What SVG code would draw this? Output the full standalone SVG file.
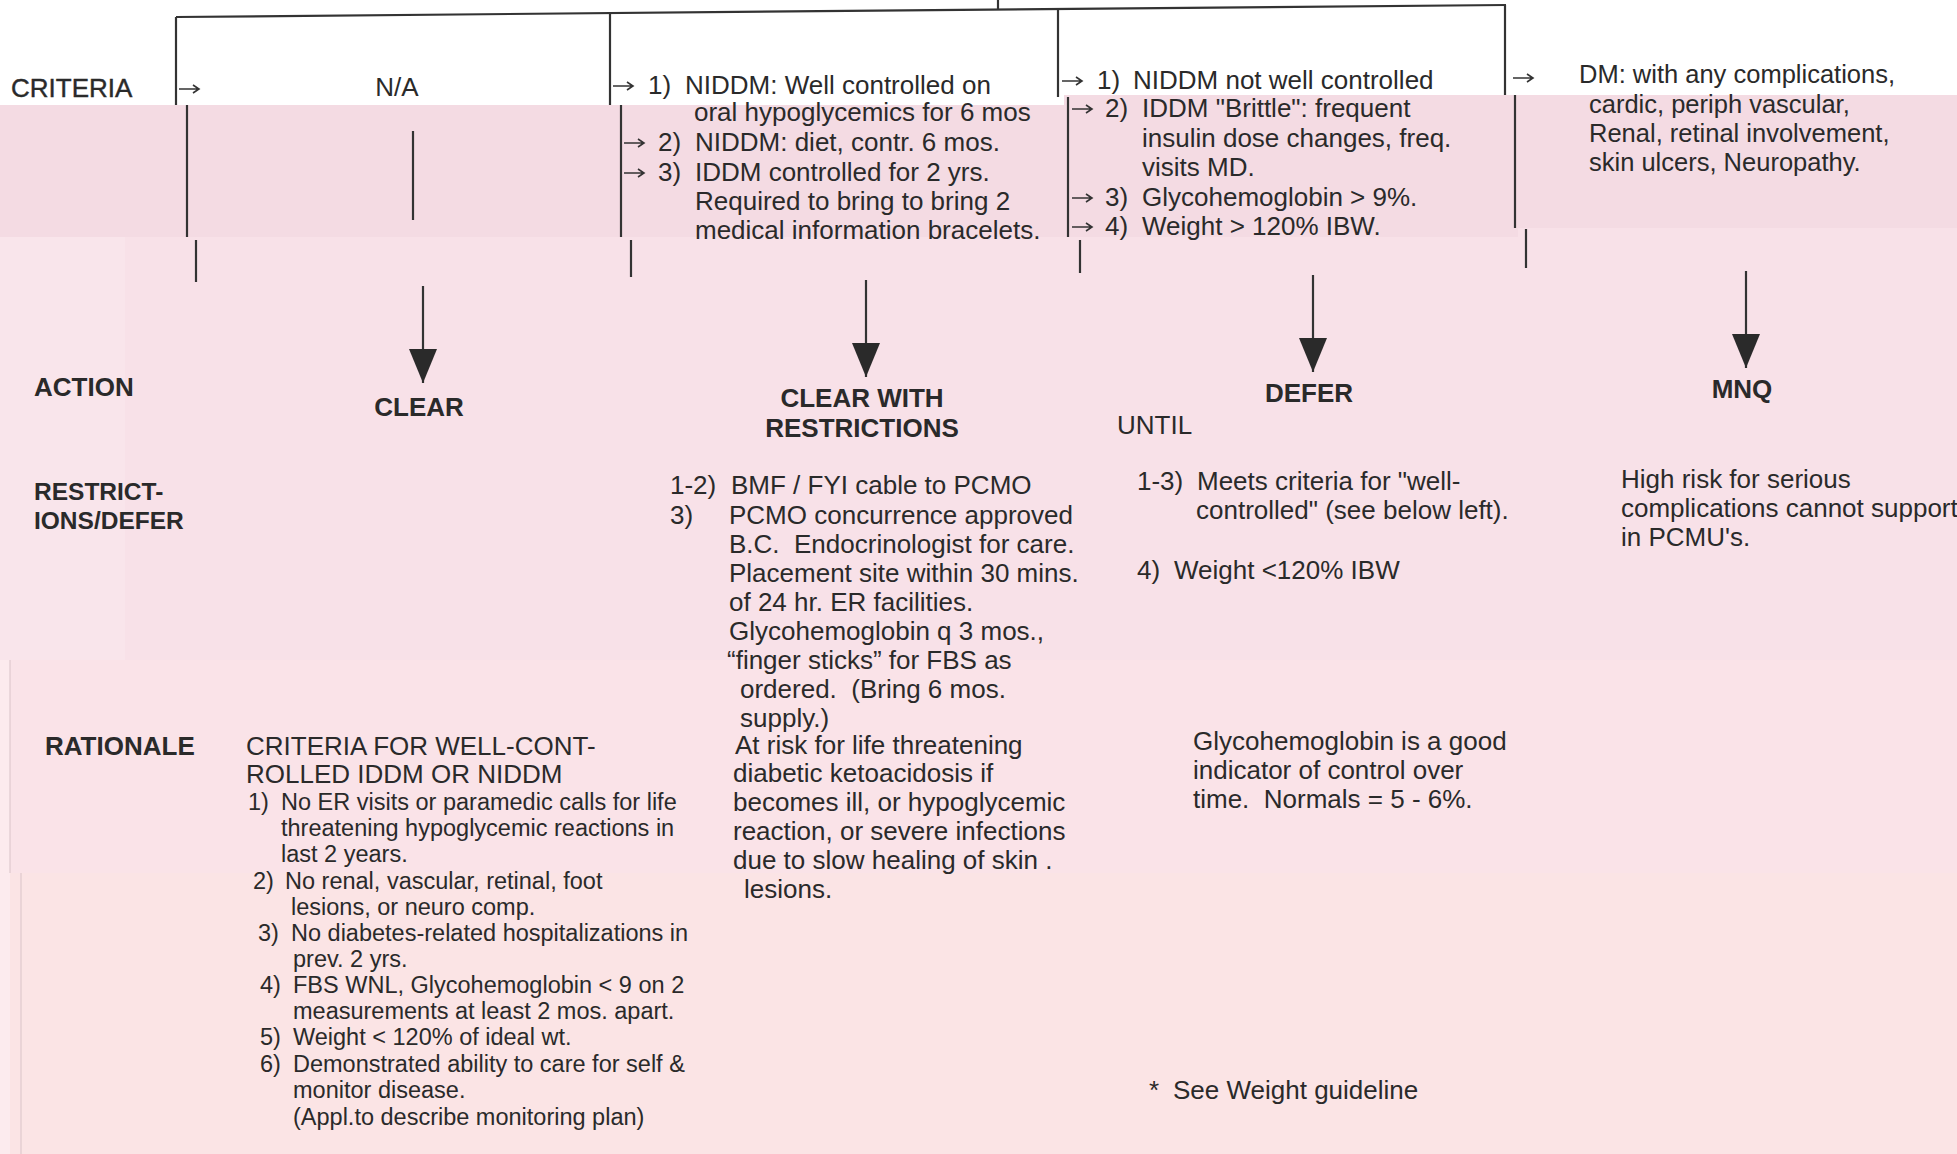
<svg xmlns="http://www.w3.org/2000/svg" width="1957" height="1154" viewBox="0 0 1957 1154">
<style>
text{font-family:"Liberation Sans",Arial,sans-serif;font-size:26px;fill:#2a2a2a;white-space:pre}
.b{font-weight:bold}
.m{text-anchor:middle}
.s{font-size:23.5px}
.d{font-size:25.5px}
.r{font-size:24.5px}
.ln{stroke:#333;stroke-width:2.2;fill:none}
.ra{stroke:#333;stroke-width:1.6;fill:none}
</style>
<defs>
<marker id="ah" markerUnits="userSpaceOnUse" markerWidth="34" markerHeight="28" viewBox="0 -14 34 28" refX="34" refY="0" orient="auto">
<path d="M0,-14 L34,0 L0,14 Z" fill="#2a2a2a"/>
</marker>
<path id="rarr" class="ra" d="M0,0 H20 M14,-4 L20,0 L14,4"/>
</defs>
<g id="background">
<rect x="0" y="0" width="1957" height="1154" fill="#fbe4e5"/>
<rect x="0" y="0" width="1957" height="105" fill="#ffffff"/>
<rect x="1064" y="95" width="893" height="10" fill="#f4dbe3"/>
<rect x="0" y="105" width="1518" height="132" fill="#f4dbe3"/>
<rect x="1518" y="95" width="439" height="133" fill="#f4dbe3"/>
<rect x="0" y="237" width="1957" height="423" fill="#f8e1e8"/>
<rect x="1518" y="228" width="439" height="9" fill="#f8e1e8"/>
<rect x="0" y="237" width="125" height="423" fill="#f9e5eb"/>
<rect x="0" y="660" width="1957" height="213" fill="#fae3e8"/>
<rect x="0" y="660" width="10" height="494" fill="#fcebee"/>
<line x1="10" y1="660" x2="10" y2="873" stroke="#d9c3c8" stroke-width="1"/>
<line x1="21" y1="873" x2="21" y2="1154" stroke="#d9c3c8" stroke-width="1"/>
</g>
<g id="connectors">
<line class="ln" x1="176" y1="17" x2="1506" y2="5"/>
<line class="ln" x1="998" y1="0" x2="998" y2="9"/>
<line class="ln" x1="176" y1="17" x2="176" y2="105"/>
<line class="ln" x1="610" y1="13" x2="610" y2="105"/>
<line class="ln" x1="1058" y1="9" x2="1058" y2="97"/>
<line class="ln" x1="1505" y1="5" x2="1505" y2="95"/>
<line class="ln" x1="187" y1="105" x2="187" y2="237"/>
<line class="ln" x1="621" y1="105" x2="621" y2="237"/>
<line class="ln" x1="1068" y1="97" x2="1068" y2="237"/>
<line class="ln" x1="1515" y1="95" x2="1515" y2="228"/>
<line class="ln" x1="196" y1="240" x2="196" y2="282"/>
<line class="ln" x1="631" y1="240" x2="631" y2="277"/>
<line class="ln" x1="1080" y1="240" x2="1080" y2="273"/>
<line class="ln" x1="1526" y1="229" x2="1526" y2="268"/>
<line class="ln" x1="413" y1="131" x2="413" y2="220"/>
<line class="ln" x1="423" y1="286" x2="423" y2="383" marker-end="url(#ah)"/>
<line class="ln" x1="866" y1="280" x2="866" y2="377" marker-end="url(#ah)"/>
<line class="ln" x1="1313" y1="275" x2="1313" y2="372" marker-end="url(#ah)"/>
<line class="ln" x1="1746" y1="271" x2="1746" y2="368" marker-end="url(#ah)"/>
<use href="#rarr" x="179" y="89"/>
<use href="#rarr" x="613" y="86"/>
<use href="#rarr" x="624" y="143"/>
<use href="#rarr" x="624" y="173"/>
<use href="#rarr" x="1062" y="81"/>
<use href="#rarr" x="1072" y="109"/>
<use href="#rarr" x="1072" y="198"/>
<use href="#rarr" x="1072" y="227"/>
<use href="#rarr" x="1513" y="78"/>
</g>
<g id="row-labels">
<text x="11" y="97" style="stroke:#2a2a2a;stroke-width:0.4">CRITERIA</text>
<text class="b" x="34" y="396">ACTION</text>
<text class="b r" x="34" y="500">RESTRICT-</text>
<text class="b r" x="34" y="529">IONS/DEFER</text>
<text class="b" x="45" y="755">RATIONALE</text>
</g>
<g id="criteria-na">
<text class="m" x="397" y="96">N/A</text>
</g>
<g id="criteria-clear-with-restrictions">
<text y="94"><tspan x="648">1)</tspan><tspan x="685">NIDDM: Well controlled on</tspan></text>
<text x="694" y="121">oral hypoglycemics for 6 mos</text>
<text y="151"><tspan x="658">2)</tspan><tspan x="695">NIDDM: diet, contr. 6 mos.</tspan></text>
<text y="181"><tspan x="658">3)</tspan><tspan x="695">IDDM controlled for 2 yrs.</tspan></text>
<text x="695" y="210">Required to bring to bring 2</text>
<text x="695" y="239">medical information bracelets.</text>
</g>
<g id="criteria-defer">
<text y="89"><tspan x="1097">1)</tspan><tspan x="1133">NIDDM not well controlled</tspan></text>
<text y="117"><tspan x="1105">2)</tspan><tspan x="1142">IDDM "Brittle": frequent</tspan></text>
<text x="1142" y="147">insulin dose changes, freq.</text>
<text x="1142" y="176">visits MD.</text>
<text y="206"><tspan x="1105">3)</tspan><tspan x="1142">Glycohemoglobin &gt; 9%.</tspan></text>
<text y="235"><tspan x="1105">4)</tspan><tspan x="1142">Weight &gt; 120% IBW.</tspan></text>
</g>
<g id="criteria-mnq">
<text class="d" x="1579" y="83">DM: with any complications,</text>
<text class="d" x="1589" y="113">cardic, periph vascular,</text>
<text class="d" x="1589" y="142">Renal, retinal involvement,</text>
<text class="d" x="1589" y="171">skin ulcers, Neuropathy.</text>
</g>
<g id="action-clear">
<text class="b m" x="419" y="416">CLEAR</text>
</g>
<g id="action-clear-with-restrictions">
<text class="b m" x="862" y="407">CLEAR WITH</text>
<text class="b m" x="862" y="437">RESTRICTIONS</text>
</g>
<g id="action-defer">
<text class="b m" x="1309" y="402">DEFER</text>
<text x="1117" y="434">UNTIL</text>
</g>
<g id="action-mnq">
<text class="b m" x="1742" y="398">MNQ</text>
</g>
<g id="restrictions-clear-with-restrictions">
<text y="494"><tspan x="670">1-2)</tspan><tspan x="731">BMF / FYI cable to PCMO</tspan></text>
<text y="524"><tspan x="670">3)</tspan><tspan x="729">PCMO concurrence approved</tspan></text>
<text x="729" y="553">B.C.  Endocrinologist for care.</text>
<text x="729" y="582">Placement site within 30 mins.</text>
<text x="729" y="611">of 24 hr. ER facilities.</text>
<text x="729" y="640">Glycohemoglobin q 3 mos.,</text>
<text x="727" y="669">“finger sticks” for FBS as</text>
<text x="740" y="698">ordered.  (Bring 6 mos.</text>
<text x="740" y="727">supply.)</text>
</g>
<g id="restrictions-defer">
<text y="490"><tspan x="1137">1-3)</tspan><tspan x="1197">Meets criteria for "well-</tspan></text>
<text x="1196" y="519">controlled" (see below left).</text>
<text y="579"><tspan x="1137">4)</tspan><tspan x="1174">Weight &lt;120% IBW</tspan></text>
</g>
<g id="restrictions-mnq">
<text x="1621" y="488">High risk for serious</text>
<text x="1621" y="517">complications cannot support</text>
<text x="1621" y="546">in PCMU's.</text>
</g>
<g id="rationale-clear">
<text x="246" y="755">CRITERIA FOR WELL-CONT-</text>
<text x="246" y="783">ROLLED IDDM OR NIDDM</text>
<text class="s" y="810"><tspan x="248">1)</tspan><tspan x="281">No ER visits or paramedic calls for life</tspan></text>
<text class="s" x="281" y="836">threatening hypoglycemic reactions in</text>
<text class="s" x="281" y="862">last 2 years.</text>
<text class="s" y="889"><tspan x="253">2)</tspan><tspan x="285">No renal, vascular, retinal, foot</tspan></text>
<text class="s" x="291" y="915">lesions, or neuro comp.</text>
<text class="s" y="941"><tspan x="258">3)</tspan><tspan x="291">No diabetes-related hospitalizations in</tspan></text>
<text class="s" x="293" y="967">prev. 2 yrs.</text>
<text class="s" y="993"><tspan x="260">4)</tspan><tspan x="293">FBS WNL, Glycohemoglobin &lt; 9 on 2</tspan></text>
<text class="s" x="293" y="1019">measurements at least 2 mos. apart.</text>
<text class="s" y="1045"><tspan x="260">5)</tspan><tspan x="293">Weight &lt; 120% of ideal wt.</tspan></text>
<text class="s" y="1072"><tspan x="260">6)</tspan><tspan x="293">Demonstrated ability to care for self &amp;</tspan></text>
<text class="s" x="293" y="1098">monitor disease.</text>
<text class="s" x="293" y="1125">(Appl.to describe monitoring plan)</text>
</g>
<g id="rationale-clear-with-restrictions">
<text x="735" y="754">At risk for life threatening</text>
<text x="733" y="782">diabetic ketoacidosis if</text>
<text x="733" y="811">becomes ill, or hypoglycemic</text>
<text x="733" y="840">reaction, or severe infections</text>
<text x="733" y="869">due to slow healing of skin .</text>
<text x="744" y="898">lesions.</text>
</g>
<g id="rationale-defer">
<text x="1193" y="750">Glycohemoglobin is a good</text>
<text x="1193" y="779">indicator of control over</text>
<text x="1193" y="808">time.  Normals = 5 - 6%.</text>
<text y="1099"><tspan x="1149">*</tspan><tspan x="1173">See Weight guideline</tspan></text>
</g>
</svg>
